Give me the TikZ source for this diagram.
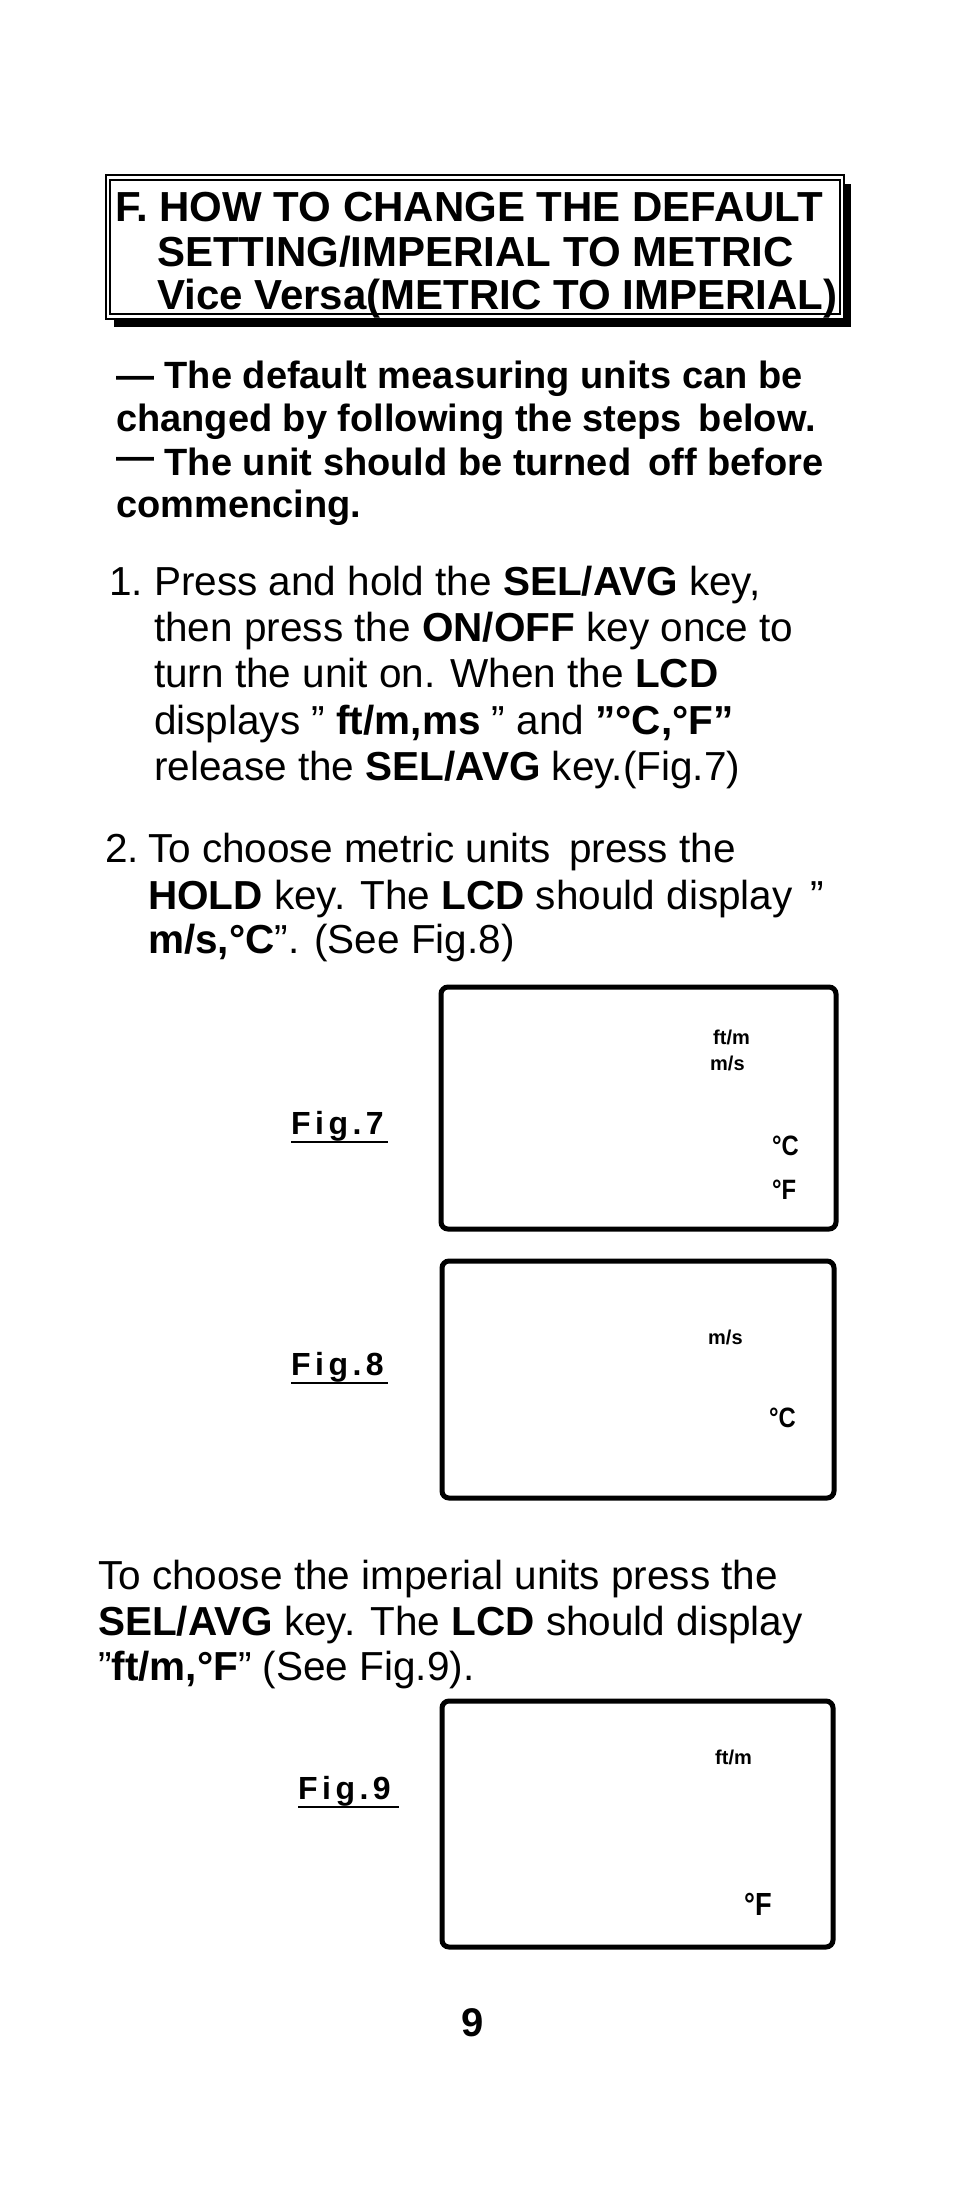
\documentclass[tikz,border=0pt]{standalone}
\usepackage{fontspec}
\setmainfont{Liberation Sans}
\newfontfamily\condb[FakeStretch=0.85]{Liberation Sans}
\newfontfamily\figf[LetterSpace=14]{Liberation Sans}
\newcommand\qq{\symbol{34}}
\begin{document}
\begin{tikzpicture}[x=1pt,y=-1pt,
  ln/.style={anchor=base west,inner sep=0pt},
  ttl/.style={ln,font=\fontsize{42}{50}\selectfont\bfseries},
  intro/.style={ln,font=\fontsize{38}{42}\selectfont\bfseries},
  body/.style={ln,font=\fontsize{40.5}{44}\selectfont},
  lcd/.style={draw,line width=5pt,rounded corners=7pt},
  small/.style={ln,font=\fontsize{20}{22}\selectfont\bfseries},
  deg/.style={ln,font=\condb\fontsize{28}{30}\selectfont\bfseries},
  figl/.style={ln,font=\figf\fontsize{32}{36}\selectfont\bfseries}]
\useasboundingbox (0,0) rectangle (954,2197);
% title box
\fill (114,184) rectangle (851,327);
\draw[fill=white,line width=1.2pt] (106,175) rectangle (844,319);
\draw[line width=1.6pt] (110,180) rectangle (840,314);
\node[ttl] (t1) at (115,221) {F. HOW TO CHANGE THE DEFAULT};
\node[ttl] (t2) at (157,266) {SETTING/IMPERIAL TO METRIC};
\node[ttl] (t3) at (157,309) {\underline{Vice Versa(METRIC TO IMPERIAL)}};
% intro
\node[intro] (i1) at (116,388) {— The default measuring units can be};
\node[intro] (i2) at (116,431) {changed by following the steps\, below.};
\node[intro] (i3) at (116,475) {\raisebox{6pt}{—} The unit should be turned\, off before};
\node[intro] (i4) at (116,517) {commencing.};
% step 1
\node[body] (s1n) at (109,595) {1.};
\node[body] (s1a) at (154,595) {Press and hold the \textbf{SEL/AVG} key,};
\node[body] (s1b) at (154,641) {then press the \textbf{ON/OFF} key once to};
\node[body] (s1c) at (154,687) {turn the unit on. When the \textbf{LCD}};
\node[body] (s1d) at (154,734) {displays \qq\ \textbf{ft/m,ms} \qq\ and \textbf{\qq°C,°F\qq}};
\node[body] (s1e) at (154,780) {release the \textbf{SEL/AVG} key.(Fig.7)};
% step 2
\node[body] (s2n) at (105,862) {2.};
\node[body] (s2a) at (148,862) {To choose metric units\, press the};
\node[body] (s2b) at (148,909) {\textbf{HOLD} key. The \textbf{LCD} should display\, \qq};
\node[body] (s2c) at (148,953) {\textbf{m/s,°C}\qq. (See Fig.8)};
% fig 7
\draw[lcd] (441,987) rectangle (836,1229);
\node[small] (f7a) at (713,1044) {ft/m};
\node[small] (f7b) at (710,1070) {m/s};
\node[deg] (f7c) at (772,1155) {°C};
\node[deg] (f7d) at (772,1199) {°F};
\node[figl] (l7) at (291,1134) {Fig.7};
\draw[line width=1.5pt] (l7.base west)++(0,8) -- ++(97,0);
% fig 8
\draw[lcd] (442,1261) rectangle (834,1498);
\node[small] (f8a) at (708,1344) {m/s};
\node[deg] (f8b) at (769,1427) {°C};
\node[figl] (l8) at (291,1375) {Fig.8};
\draw[line width=1.5pt] (l8.base west)++(0,8) -- ++(97,0);
% paragraph
\node[body] (p1) at (98,1589) {To choose the imperial units press the};
\node[body] (p2) at (98,1635) {\textbf{SEL/AVG} key. The \textbf{LCD} should display};
\node[body] (p3) at (98,1680) {\qq\textbf{ft/m,°F}\qq\ (See Fig.9).};
% fig 9
\draw[lcd] (442,1701) rectangle (833,1947);
\node[small] (f9a) at (715,1764) {ft/m};
\node[deg,font=\condb\fontsize{32}{34}\selectfont\bfseries] (f9b) at (744,1915) {°F};
\node[figl] (l9) at (298,1799) {Fig.9};
\draw[line width=1.5pt] (l9.base west)++(0,8) -- ++(101,0);
\node[ln,anchor=base,font=\fontsize{40}{44}\selectfont\bfseries] (pg) at (473,2036) {9};
\end{tikzpicture}
\end{document}
